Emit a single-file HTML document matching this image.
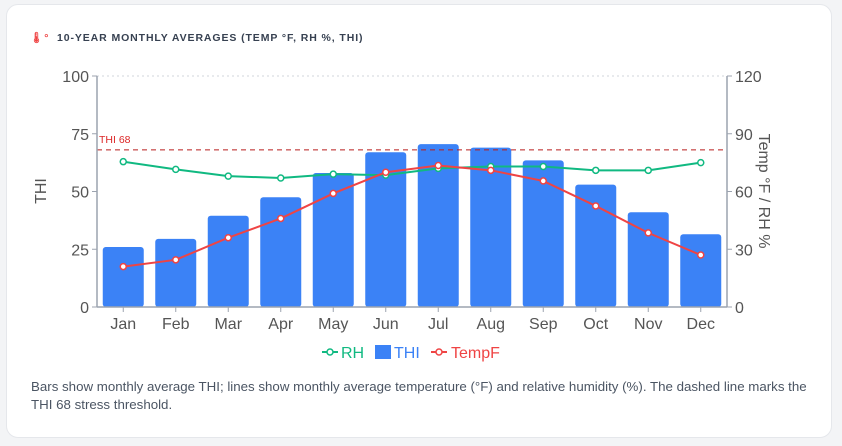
<!DOCTYPE html>
<html><head><meta charset="utf-8"><style>
body{margin:0;background:#f3f4f6;font-family:"Liberation Sans",sans-serif;}
.card{position:absolute;left:6px;top:4px;width:826px;height:434px;background:#fff;border:1px solid #e5e7eb;border-radius:12px;box-sizing:border-box;}
.title{position:absolute;left:30px;top:31px;font-size:10.5px;font-weight:bold;letter-spacing:0.9px;color:#374151;}
.note{position:absolute;left:31px;top:378px;width:800px;font-size:13.3px;line-height:18px;color:#4b5563;}
svg{position:absolute;left:0;top:0;}
</style></head><body>
<div class="card"></div>
<div class="title"><span style="color:#ef4444">🌡°</span>&nbsp; 10-YEAR MONTHLY AVERAGES (TEMP °F, RH %, THI)</div>
<svg id="c" width="842" height="446"></svg>
<div class="note">Bars show monthly average THI; lines show monthly average temperature (°F) and relative humidity (%). The dashed line marks the<br>THI 68 stress threshold.</div>
<script>
const months=["Jan","Feb","Mar","Apr","May","Jun","Jul","Aug","Sep","Oct","Nov","Dec"];
const thi=[26,29.5,39.5,47.5,58,67,70.5,69,63.5,53,41,31.5];
const rh=[75.5,71.5,68,67,69,68.5,72,73,73,71,71,75];
const tempF=[21,24.5,36,46,59,70,73.5,71,65.5,52.5,38.5,27];
const leftTicks=[0,25,50,75,100];
const rightTicks=[0,30,60,90,120];
const threshold=68;
const X0=97,X1=727,Y0=307,Y1=76;
const band=(X1-X0)/months.length;
const xc=i=>X0+band*(i+0.5);
const yL=v=>Y0-(v/100)*(Y0-Y1);
const yR=v=>Y0-(v/120)*(Y0-Y1);
const svg=document.getElementById('c');
const NS="http://www.w3.org/2000/svg";
function mk(t,a){const e=document.createElementNS(NS,t);for(const k in a)e.setAttribute(k,a[k]);svg.appendChild(e);return e;}
let e;
e=mk('line',{x1:X0,x2:X1,y1:Y1,y2:Y1,stroke:'#d1d5db','stroke-dasharray':'2,3'});

thi.forEach((v,i)=>{e=mk('rect',{x:xc(i)-20.5,y:yL(v),width:41,height:Y0-yL(v),fill:'#3b82f6',rx:3});
});
e=mk('line',{x1:X0,x2:X1,y1:yL(threshold),y2:yL(threshold),stroke:'#b91c1c','stroke-dasharray':'5,4','stroke-width':1});

e=mk('text',{x:X0+2,y:yL(threshold)-7,fill:'#dc2626','font-size':10.5});e.textContent='THI 68';

function line(arr,col,name){
 let d='';arr.forEach((v,i)=>{d+=(i?'L':'M')+xc(i)+','+yR(v);});
 e=mk('path',{d:d,fill:'none',stroke:col,'stroke-width':2});
 
 arr.forEach((v,i)=>{e=mk('circle',{cx:xc(i),cy:yR(v),r:3,fill:'#fff',stroke:col,'stroke-width':1.5});
 });
}
line(rh,'#10b981','rh');line(tempF,'#ef4444','tempf');
e=mk('line',{x1:X0,x2:X0,y1:Y1,y2:Y0,stroke:'#9ca3af','stroke-width':1.5});

e=mk('line',{x1:X1,x2:X1,y1:Y1,y2:Y0,stroke:'#9ca3af','stroke-width':1.5});

e=mk('line',{x1:X0,x2:X1,y1:Y0,y2:Y0,stroke:'#9ca3af','stroke-width':1.5});

leftTicks.forEach(t=>{mk('line',{x1:X0-5,x2:X0,y1:yL(t),y2:yL(t),stroke:'#9ca3af'});
 e=mk('text',{x:X0-8,y:yL(t)+6,'text-anchor':'end','font-size':16,fill:'#555'});e.textContent=t;
 });
rightTicks.forEach(t=>{mk('line',{x1:X1,x2:X1+5,y1:yR(t),y2:yR(t),stroke:'#9ca3af'});
 e=mk('text',{x:X1+8,y:yR(t)+6,'font-size':16,fill:'#555'});e.textContent=t;
 });
months.forEach((m,i)=>{mk('line',{x1:xc(i),x2:xc(i),y1:Y0,y2:Y0+5,stroke:'#9ca3af'});
 e=mk('text',{x:xc(i),y:Y0+22,'text-anchor':'middle','font-size':16,fill:'#555'});e.textContent=m;
 });
e=mk('text',{x:0,y:0,'font-size':16,fill:'#555','text-anchor':'middle',transform:'translate(46,191) rotate(-90)'});e.textContent='THI';

e=mk('text',{x:0,y:0,'font-size':16,fill:'#555','text-anchor':'middle',transform:'translate(759,191) rotate(90)'});e.textContent='Temp °F / RH %';

e=mk('line',{x1:322,x2:338,y1:352,y2:352,stroke:'#10b981','stroke-width':2});
mk('circle',{cx:330,cy:352,r:3,fill:'#fff',stroke:'#10b981','stroke-width':1.5});
e=mk('text',{x:341,y:358,'font-size':16,fill:'#10b981'});e.textContent='RH';

mk('rect',{x:375,y:345,width:16,height:14,fill:'#3b82f6'});
e=mk('text',{x:394,y:358,'font-size':16,fill:'#3b82f6'});e.textContent='THI';

mk('line',{x1:431,x2:447,y1:352,y2:352,stroke:'#ef4444','stroke-width':2});
mk('circle',{cx:439,cy:352,r:3,fill:'#fff',stroke:'#ef4444','stroke-width':1.5});
e=mk('text',{x:451,y:358,'font-size':16,fill:'#ef4444'});e.textContent='TempF';

</script>
</body></html>
